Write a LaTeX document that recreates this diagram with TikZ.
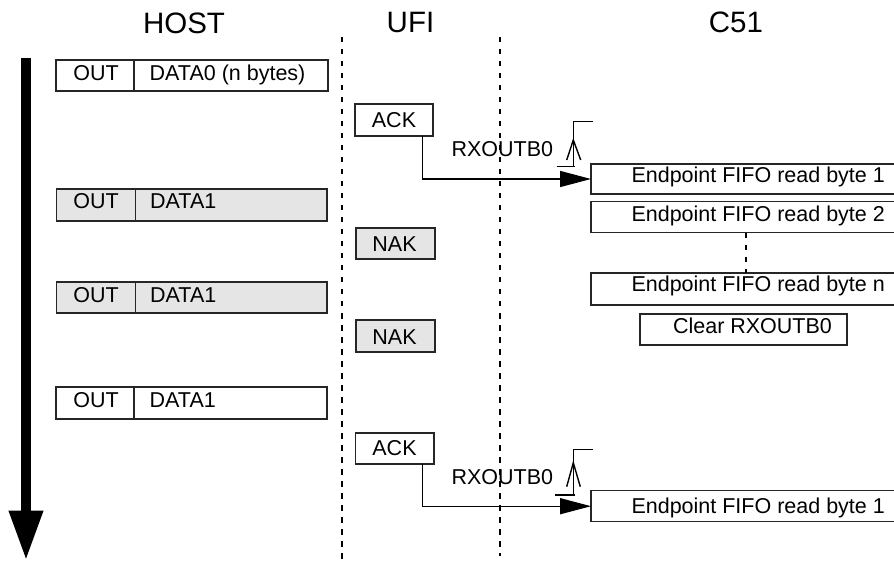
\documentclass[tikz,border=0pt]{standalone}
\usepackage{fontspec}
\setmainfont{Liberation Sans}
\usetikzlibrary{arrows.meta}
\begin{document}
\begin{tikzpicture}[x=1pt,y=-1pt,
  cell/.style={draw=black!85, line width=1.3pt, inner sep=0pt, outer sep=0pt, anchor=north west, fill=white},
  gcell/.style={cell, fill=black!10},
  lbl/.style={inner sep=0pt, font=\fontsize{21.5}{24}\selectfont},
  hdr/.style={inner sep=0pt, font=\fontsize{29.5}{32}\selectfont},
  life/.style={line width=1.6pt, dash pattern=on 5.5pt off 6.5pt},
  wire/.style={line width=1.4pt},
  bigtip/.style={-{Triangle[length=31pt,width=16pt]}}
]
\useasboundingbox (0,0) rectangle (894,561);

% headers
\node[hdr, anchor=base] (hhost) at (184,33.5) {HOST};
\node[hdr, anchor=base] (hufi) at (410.5,33) {UFI};
\node[hdr, anchor=base] (hc51) at (736,33) {C51};

% lifelines
\coordinate (l1t) at (342,37); \coordinate (l1b) at (342,561);
\coordinate (l2t) at (500,37); \coordinate (l2b) at (500,556);
\draw[life] (l1t) -- (l1b);
\draw[life] (l2t) -- (l2b);

% time arrow
\coordinate (tstart) at (26,58);
\coordinate (tend) at (26,560.5);
\draw[line width=10pt, -{Triangle[length=50pt,width=32pt]}] (tstart) -- (tend);

% HOST packets
\node[cell, minimum width=78, minimum height=31] (o1) at (56,60) {};
\node[cell, minimum width=194, minimum height=31] (d1) at (134,60) {};
\node[gcell, minimum width=79, minimum height=32] (o2) at (56.5,189) {};
\node[gcell, minimum width=191.5, minimum height=32] (d2) at (135.5,189) {};
\node[gcell, minimum width=79, minimum height=31] (o3) at (56.5,282) {};
\node[gcell, minimum width=191.5, minimum height=31] (d3) at (135.5,282) {};
\node[cell, minimum width=78, minimum height=32] (o4) at (56,387) {};
\node[cell, minimum width=193, minimum height=32] (d4) at (134,387) {};

\node[lbl, anchor=base] (to1) at (96,81) {OUT};
\node[lbl, anchor=base west] (td1) at (149.5,81) {DATA0 (n bytes)};
\node[lbl, anchor=base] (to2) at (96,208.5) {OUT};
\node[lbl, anchor=base west] (td2) at (150,208.5) {DATA1};
\node[lbl, anchor=base] (to3) at (96,302) {OUT};
\node[lbl, anchor=base west] (td3) at (150,302) {DATA1};
\node[lbl, anchor=base] (to4) at (96,407) {OUT};
\node[lbl, anchor=base west] (td4) at (149.5,407) {DATA1};

% UFI handshakes
\node[cell, minimum width=78, minimum height=32] (a1) at (355,104) {};
\node[gcell, minimum width=79, minimum height=31] (n1) at (356,228) {};
\node[gcell, minimum width=79, minimum height=32] (n2) at (356,320) {};
\node[cell, minimum width=78.3, minimum height=31] (a2) at (355.7,433) {};
\node[lbl, anchor=base] (ta1) at (394,127.5) {ACK};
\node[lbl, anchor=base] (tn1) at (394.5,252) {NAK};
\node[lbl, anchor=base] (tn2) at (394.5,344) {NAK};
\node[lbl, anchor=base] (ta2) at (394.5,455) {ACK};

% C51 actions
\node[cell, minimum width=320, minimum height=30] (f1) at (591,164) {};
\node[cell, minimum width=320, minimum height=31] (f2) at (591,201.7) {};
\node[cell, minimum width=320, minimum height=32] (f3) at (591,273) {};
\node[cell, minimum width=207, minimum height=31] (cl) at (640,314) {};
\node[cell, minimum width=320, minimum height=31] (f5) at (591,490.7) {};
\node[lbl, anchor=base west] (tf1) at (631.3,183) {Endpoint FIFO read byte 1};
\node[lbl, anchor=base west] (tf2) at (631.3,221.7) {Endpoint FIFO read byte 2};
\node[lbl, anchor=base west] (tf3) at (631.3,292) {Endpoint FIFO read byte n};
\node[lbl, anchor=base] (tcl) at (752.5,333.5) {Clear RXOUTB0};
\node[lbl, anchor=base west] (tf5) at (631.3,513) {Endpoint FIFO read byte 1};
\coordinate (sep) at (745.7,0);
\draw[life] (f2.south -| sep) -- (f3.north -| sep);

% connectors
\draw[wire, bigtip] ([xshift=-10.5pt]a1.south east) |- (f1.west);
\draw[wire, bigtip] ([xshift=-11.3pt]a2.south east) |- (f5.west);
\node[lbl, anchor=base] (rx1) at (502.4,156.7) {RXOUTB0};
\node[lbl, anchor=base] (rx2) at (502.4,484) {RXOUTB0};

% rising-edge symbols
\draw[wire] (556.7,166.7) -- (575,166.7);
\draw[wire] (573.3,166.7) -- (573.3,121.7) -- (593.3,121.7);
\draw[wire] (566.7,160) -- (573.3,140) -- (580.7,160);
\draw[wire] (555,495) -- (575,495);
\draw[wire] (573.3,495) -- (573.3,449.3) -- (593.3,449.3);
\draw[wire] (566.7,486.7) -- (573.3,462.7) -- (580.3,486.7);
\end{tikzpicture}
\end{document}
